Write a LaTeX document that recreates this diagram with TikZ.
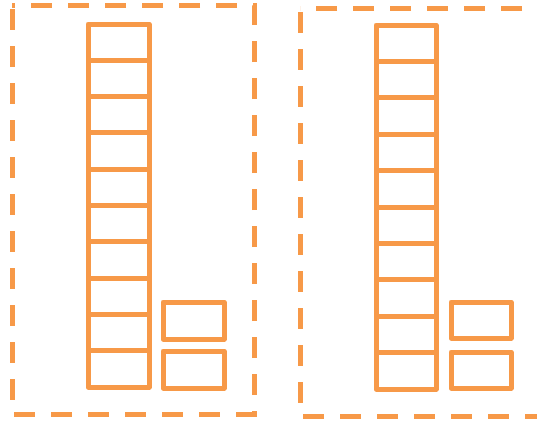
\documentclass[tikz,border=0pt]{standalone}
\usetikzlibrary{calc}
\definecolor{blockorange}{RGB}{247,153,72}

\begin{document}
\begin{tikzpicture}[x=1pt,y=-1pt,
  frame/.style={blockorange,line width=5pt,dash pattern=on 21pt off 16pt,dash phase=33pt},
  block/.style={blockorange,line width=5pt,line join=round}]
\useasboundingbox (0,0) rectangle (537,421);

% left group
\draw[frame] (12,5) -- (12,414) -- (254,414) -- (254,5) -- cycle;
\draw[block] (88,24) rectangle (149,387);
\foreach \k in {1,...,9}
  \draw[block] (88,{24+36.3*\k}) -- (149,{24+36.3*\k});
\draw[block] (163,302) rectangle (224,339);
\draw[block] (163,351) rectangle (224,388);

% right group
\draw[frame] (300,8) -- (300,416) -- (560,416) -- (560,8) -- cycle;
\draw[block] (376,25) rectangle (436,389);
\foreach \k in {1,...,9}
  \draw[block] (376,{25+36.4*\k}) -- (436,{25+36.4*\k});
\draw[block] (451,302) rectangle (511,338);
\draw[block] (451,352) rectangle (511,388);

\end{tikzpicture}
\end{document}
